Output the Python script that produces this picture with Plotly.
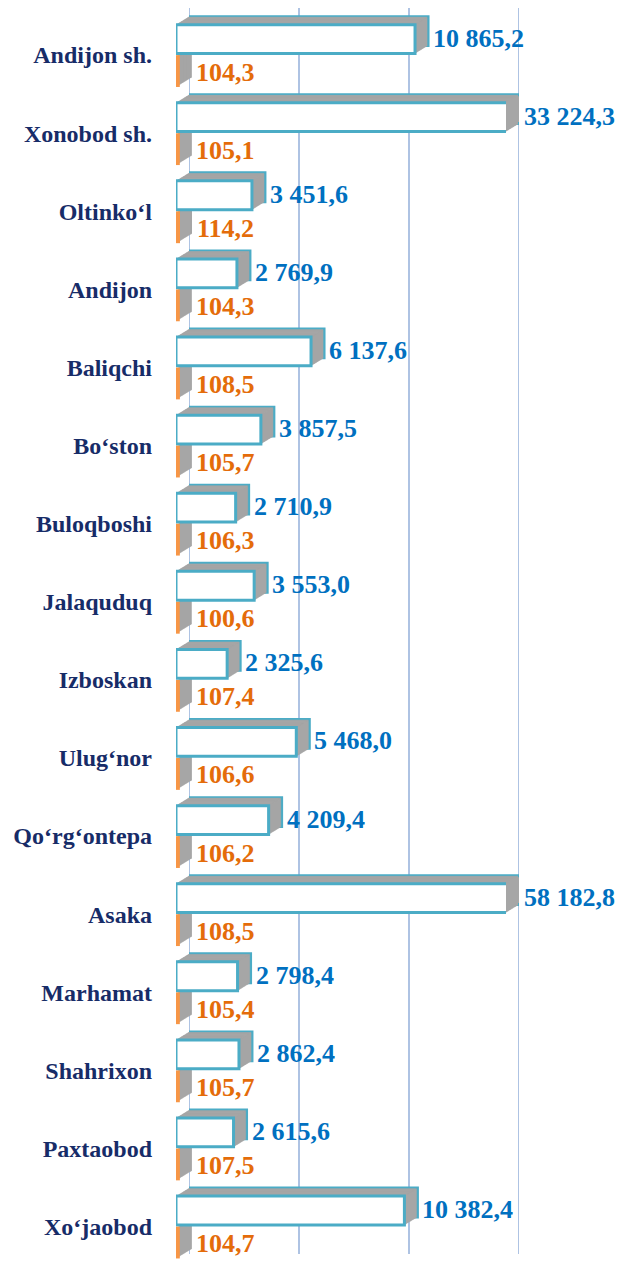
import plotly.graph_objects as go

# ---------------- data ----------------
districts = ["Andijon sh.", "Xonobod sh.", "Oltinko‘l", "Andijon", "Baliqchi", "Bo‘ston",
             "Buloqboshi", "Jalaquduq", "Izboskan", "Ulug‘nor", "Qo‘rg‘ontepa", "Asaka",
             "Marhamat", "Shahrixon", "Paxtaobod", "Xo‘jaobod"]
volume = [10865.2, 33224.3, 3451.6, 2769.9, 6137.6, 3857.5, 2710.9, 3553.0, 2325.6,
          5468.0, 4209.4, 58182.8, 2798.4, 2862.4, 2615.6, 10382.4]
growth = [104.3, 105.1, 114.2, 104.3, 108.5, 105.7, 106.3, 100.6, 107.4, 106.6,
          106.2, 108.5, 105.4, 105.7, 107.5, 104.7]

XMAX = 15000
GRID_VALUES = [0, 5000, 10000, 15000]

def fmt(v):
    return f"{v:,.1f}".replace(",", " ").replace(".", ",")

# ---------------- layout geometry ----------------
W, H = 632, 1262
L = 14                  # number of depth layers (0 = back wall, L-1 = front face)
DX, DY = 13, 8          # depth offset in px
FRONT_X0, PLOT_W = 176, 330
FRONT_TOP = 16
N = len(districts)
YRANGE = [N - 0.546, -0.5]
XRANGE = [0, XMAX]

TEAL = "#4bacc6"
GREY = "#a6a6a6"
ORANGE = "#f79646"
BLUE_TXT = "#0070c0"
ORANGE_TXT = "#e46c0a"
NAVY = "#172c68"
GRID = "#aec3e3"
SERIF = "Liberation Serif, Times New Roman, Times, serif"

fig = go.Figure()
layout_axes = {}

for j in range(L):
    off = (L - 1 - j) / (L - 1)
    x0 = FRONT_X0 + DX * off
    x1 = x0 + PLOT_W
    ytop = FRONT_TOP - DY * off
    ybot = H - DY * off
    sx = "" if j == 0 else str(j + 1)
    front = j == L - 1
    back = j == 0

    if front:
        b_fill, b_line, b_lw = "white", TEAL, 3
        o_fill, o_line, o_lw = ORANGE, ORANGE, 3
    elif back:
        b_fill, b_line, b_lw = GREY, TEAL, 3
        o_fill, o_line, o_lw = GREY, GREY, 1
    else:
        b_fill, b_line, b_lw = GREY, GREY, 0.6
        o_fill, o_line, o_lw = GREY, GREY, 0.6

    fig.add_trace(go.Bar(
        x=volume, y=districts, orientation="h", xaxis="x" + sx, yaxis="y" + sx,
        marker=dict(color=b_fill, line=dict(color=b_line, width=b_lw)),
        showlegend=False, hoverinfo="skip" if not front else None,
    ))
    fig.add_trace(go.Bar(
        x=growth, y=districts, orientation="h", xaxis="x" + sx, yaxis="y" + sx,
        marker=dict(color=o_fill, line=dict(color=o_line, width=o_lw)),
        showlegend=False, hoverinfo="skip" if not front else None,
    ))

    layout_axes["xaxis" + sx] = dict(
        domain=[x0 / W, x1 / W], range=XRANGE, anchor="y" + sx,
        showgrid=False, zeroline=False,
        showticklabels=False, ticks="", showline=False, fixedrange=True,
    )
    ydict = dict(
        domain=[1 - ybot / H, 1 - ytop / H], type="category",
        categoryorder="array", categoryarray=districts, range=YRANGE,
        anchor="x" + sx, showgrid=False, zeroline=False, showline=False,
        ticks="", fixedrange=True, showticklabels=front,
    )
    if front:
        ydict.update(
            tickfont=dict(family=SERIF, size=24, color=NAVY, weight="bold"),
            ticklabelstandoff=23,
        )
    layout_axes["yaxis" + sx] = ydict

front_y = "y" + str(L)

# back-wall gridlines (on the back layer's value axis)
shapes = [dict(type="line", xref="x", yref="y domain", x0=g, x1=g, y0=0, y1=1,
               line=dict(color=GRID, width=2), layer="below")
          for g in GRID_VALUES]

annotations = []
for name, v, g in zip(districts, volume, growth):
    annotations.append(dict(
        x=min(v, XMAX), y=name, xref="x", yref=front_y, text=fmt(v),
        showarrow=False, xanchor="left", yanchor="middle", xshift=3, yshift=17,
        font=dict(family=SERIF, size=26, color=BLUE_TXT, weight="bold"),
    ))
    annotations.append(dict(
        x=min(g, XMAX), y=name, xref="x", yref=front_y, text=fmt(g),
        showarrow=False, xanchor="left", yanchor="middle", xshift=3, yshift=-17,
        font=dict(family=SERIF, size=26, color=ORANGE_TXT, weight="bold"),
    ))

fig.update_layout(
    width=W, height=H,
    margin=dict(l=0, r=0, t=0, b=0),
    paper_bgcolor="white", plot_bgcolor="rgba(0,0,0,0)",
    barmode="group", bargap=0.18, bargroupgap=0.1,
    annotations=annotations, shapes=shapes,
    **layout_axes,
)

fig.write_html("out.html", config={"displayModeBar": False},
               post_script="document.body.style.margin='0px';")
